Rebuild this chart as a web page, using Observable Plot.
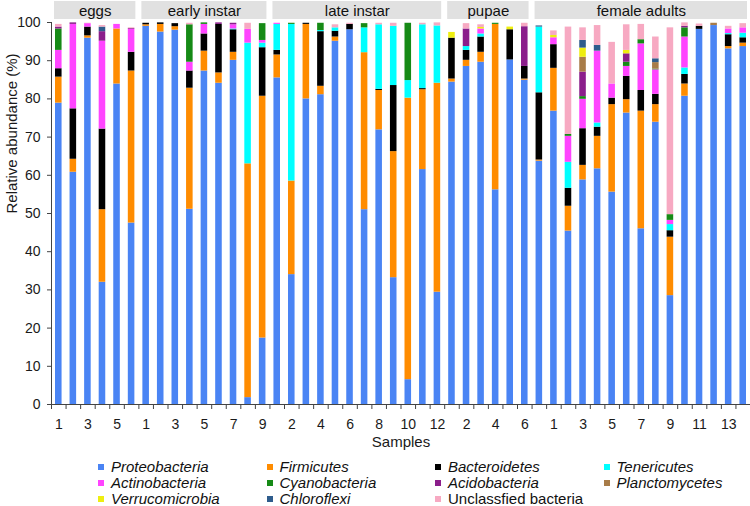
<!DOCTYPE html>
<html>
<head>
<meta charset="utf-8">
<script src="https://cdn.jsdelivr.net/npm/d3@7"></script>
<script src="https://cdn.jsdelivr.net/npm/@observablehq/plot@0.6"></script>
<style>
  body { margin: 0; background: #fff; font-family: "Liberation Sans", Arial, sans-serif; }
  #chart svg { display: block; }
  #legend { display: grid; grid-template-columns: repeat(4, 168.5px); padding-left: 98px; font-size: 15px; line-height: 16px; color: #111; }
  #legend .item { display: flex; align-items: center; white-space: nowrap; }
  #legend .sw { width: 6px; height: 6px; margin-right: 7px; flex: none; }
</style>
</head>
<body>
<div id="chart"></div>
<div id="legend"></div>
<script>
// ---- data ----
const groupNames = ["eggs", "early instar", "late instar", "pupae", "female adults"];
const groupSizes = [6, 9, 12, 7, 14];
// header boxes as drawn in the figure (sample index spans)
const headerStart = [0, 6, 15, 27, 33];
const headerEnd = [6, 15, 27, 33, 48];

const phyla = ["Proteobacteria", "Firmicutes", "Bacteroidetes", "Tenericutes", "Actinobacteria",
  "Cyanobacteria", "Acidobacteria", "Planctomycetes", "Verrucomicrobia", "Chloroflexi", "Unclassfied bacteria"];
const colors = ["#4a84f4", "#ff8c00", "#000000", "#00ffff", "#ff44ff",
  "#168a16", "#8b1e8b", "#a87c48", "#eeee10", "#2e5c8c", "#f7a9c2"];

const proteobacteria = [78.9,60.8,95.9,32.0,83.9,47.5, 99.0,97.5,98.0,51.1,87.3,84.1,90.1,1.8,17.4, 85.5,34.0,80.0,81.1,95.1,98.1,51.0,71.9,33.2,6.5,61.5,29.4, 84.4,88.5,89.6,56.2,90.2,84.9,63.7, 76.8,45.4,58.8,61.7,55.6,76.3,46.0,73.9,28.5,80.7,98.2,99.2,93.1,93.7];
const firmicutes = [6.8,3.4,0.6,19.0,14.4,39.8, 0.4,2.0,0.9,31.7,5.2,2.7,2.1,61.2,63.3, 6.0,24.5,19.5,2.2,1.1,0,41.1,10.3,33.0,73.7,20.9,54.7, 0.8,1.6,2.6,43.3,0,0.3,0.3, 11.2,6.5,3.8,8.5,22.9,3.5,30.8,4.6,15.3,3.2,0,0,0.6,0.9];
const bacteroidetes = [2.2,13.2,2.3,21.1,0,4.9, 0.4,0.4,0.8,4.5,4.5,12.7,5.9,0,12.7, 1.2,0,0.3,14.3,1.5,1.4,0,0.3,17.3,0,0.3,0, 10.7,2.6,4.0,0,7.9,3.3,17.6, 6.2,4.7,9.6,2.4,1.7,6.1,5.4,2.7,1.7,2.5,0.8,0,3.1,1.4];
const tenericutes = [0,0,0,0,0,0, 0,0,0,0,0,0,0.2,31.6,1.2, 6.8,41.0,0,0.3,0.9,0,6.5,16.9,15.5,4.6,16.7,15.0, 0,1.0,0.8,0,0,0,17.2, 0,6.8,0,1.1,0,0,0,0,1.6,1.7,0,0,0.3,1.2];
const actinobacteria = [4.8,22.1,0.9,23.0,1.2,6.0, 0,0,0,2.3,2.5,0,1.1,3.6,0.7, 0.3,0,0,0,0,0,0,0,0,0,0,0, 0,0,1.3,0,0,0,0, 1.8,6.8,7.7,18.8,3.7,2.6,12.2,6.4,1.1,8.1,0,0,1.2,1.4];
const cyanobacteria = [5.6,0,0,0,0,0, 0,0,0,9.8,0.4,0,0,0,4.4, 0,0.3,0,1.9,0,0,1.1,0,0,15.0,0,0, 0,0,0,0.3,0,0,0, 0,0.5,0.7,0,0,1.1,1.1,0.2,1.5,2.4,0,0,0,0];
const acidobacteria = [0.5,0.4,0,2.5,0,0.2, 0,0,0,0,0,0.4,0.4,0,0, 0,0,0,0,0,0,0,0,0,0,0,0, 0,4.6,0,0,0,10.4,0, 0,0,6.4,0,0,2.2,0,0,0,0.4,0,0,0,0];
const planctomycetes = [0,0,0,0,0,0, 0,0,0,0,0,0,0,0,0, 0,0,0,0,0,0,0,0,0,0,0,0, 0,0,0,0,0,0,0, 0,0,3.9,0,0,0,0,1.7,0,0,0,0.6,0,0];
const verrucomicrobia = [0,0,0,0,0,0, 0,0,0,0,0,0,0,0,0, 0,0,0,0,0,0,0,0,0,0,0,0, 1.5,0,0.4,0,0.7,0,0, 0.6,0,2.4,0,0,0.9,0,0,0,0,0,0,0,0];
const chloroflexi = [0,0,0,1.2,0,0, 0,0,0,0,0,0,0,0,0, 0,0,0,0,0,0,0,0,0,0,0,0, 0,0,0,0,0,0,0.3, 0,0,2.0,1.5,0,0,0,1.0,0,0,0,0,0,0];
const unclassified = [0.7,0,0.1,0.4,0,0.2, 0,0,0,0.4,0,0,0,1.6,0, 0,0,0,0,0.8,0.3,0,0.4,0.8,0,0.4,0.8, 0,1.4,0.7,0,0,0.9,0, 1.2,28.1,3.3,5.2,10.9,6.7,4.0,5.7,48.9,0.9,0.6,0,0.7,1.1];

const yTicks = [0,10,20,30,40,50,60,70,80,90,100];

// ---- build tables ----
const series = [proteobacteria, firmicutes, bacteroidetes, tenericutes, actinobacteria,
  cyanobacteria, acidobacteria, planctomycetes, verrucomicrobia, chloroflexi, unclassified];

const sampleLabels = [];
groupSizes.forEach((n) => { for (let k = 1; k <= n; k++) sampleLabels.push(String(k)); });
const N = sampleLabels.length;

const segs = [];
for (let i = 0; i < N; i++) {
  let acc = 0;
  phyla.forEach((p, j) => {
    const v = series[j][i];
    if (v > 0) segs.push({i, phylum: p, y1: acc, y2: acc + v});
    acc += v;
  });
}
const tickLabels = sampleLabels.map((label, i) => ({i, label})).filter(d => d.i % 2 === 0);
const headers = groupNames.map((name, k) => ({name, start: headerStart[k], end: headerEnd[k]}));

const chart = Plot.plot({
  width: 750,
  height: 459,
  marginLeft: 51,
  marginRight: 0,
  marginTop: 22,
  marginBottom: 55,
  style: {fontFamily: "'Liberation Sans', Arial, sans-serif", fontSize: "14px", color: "#1a1a1a", background: "#fff"},
  x: {type: "linear", domain: [0, N]},
  y: {domain: [0, 100]},
  color: {domain: phyla, range: colors},
  marks: [
    Plot.rect(headers, {x1: "start", x2: "end", fill: "#e1e1e1", insetLeft: 3, insetRight: 3, insetTop: -21, insetBottom: 385}),
    Plot.text(headers, {x: d => (d.start + d.end) / 2, text: "name", frameAnchor: "top", lineAnchor: "middle", dy: -11, fontSize: 15, fill: "#111"}),
    Plot.rect(segs, {x1: "i", x2: d => d.i + 1, y1: "y1", y2: "y2", fill: "phylum", insetLeft: 4, insetRight: 4}),
    Plot.ruleX([0], {stroke: "#444"}),
    Plot.ruleY([0], {stroke: "#444"}),
    Plot.axisY({ticks: yTicks, tickSize: 4, tickPadding: 7, label: null, fontSize: 14, stroke: "#444"}),
    Plot.axisX({ticks: d3.range(N + 1), tickSize: 5, tickFormat: () => "", label: null, stroke: "#444"}),
    Plot.text(tickLabels, {x: d => d.i + 0.5, text: "label", frameAnchor: "bottom", lineAnchor: "middle", dy: 20, fontSize: 14}),
    Plot.text(["Samples"], {text: d => d, frameAnchor: "bottom", lineAnchor: "middle", dy: 38, fontSize: 15}),
    Plot.text(["Relative abundance (%)"], {text: d => d, frameAnchor: "left", rotate: -90, dx: -39, fontSize: 15})
  ]
});
document.getElementById("chart").append(chart);

const legend = document.getElementById("legend");
phyla.forEach((p, j) => {
  const item = document.createElement("div");
  item.className = "item";
  const sw = document.createElement("span");
  sw.className = "sw";
  sw.style.background = colors[j];
  const t = document.createElement("span");
  t.textContent = p;
  if (p !== "Unclassfied bacteria") t.style.fontStyle = "italic";
  item.append(sw, t);
  legend.append(item);
});
</script>
</body>
</html>
